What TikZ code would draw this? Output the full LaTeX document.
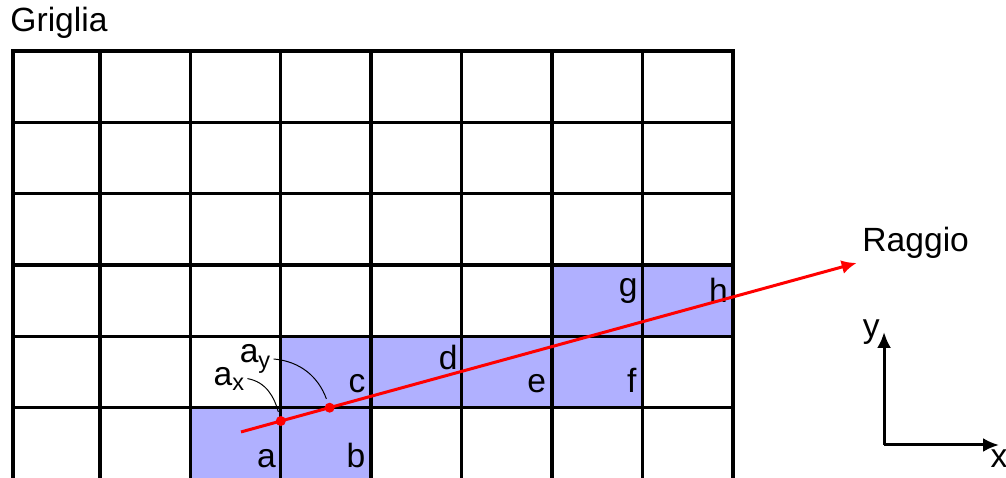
\documentclass[tikz,border=0pt]{standalone}
\usepackage{fontspec}
\setmainfont{Liberation Sans}
\usetikzlibrary{arrows.meta}
\definecolor{zelle}{HTML}{B0B0FF}
\definecolor{rosso}{HTML}{FF0000}
\tikzset{
  griglia/.style={black,line width=1.7pt},
  colpita/.style={fill=zelle},
  raggio/.style={-{Latex[length=7.5pt,width=7pt]},rosso,line width=1.5pt},
  asse/.style={-{Latex[length=8pt,width=7pt]},black,line width=1.5pt},
  lbl/.style={inner sep=0pt,font=\fontsize{16.8}{20}\selectfont},
  guida/.style={black,line width=0.5pt,shorten >=2pt},
  punto/.style={circle,fill=rosso,inner sep=0pt,minimum size=5pt},
}

\begin{document}
\begin{tikzpicture}[x=45.2pt,y=35.65pt]
  \useasboundingbox (-0.106,0.028) rectangle (11.022,6.718);
  % celle attraversate dal raggio
  \fill[colpita] (2,0) rectangle (4,1);
  \fill[colpita] (3,1) rectangle (7,2);
  \fill[colpita] (6,2) rectangle (8,3);
  % griglia
  \draw[griglia] (0.04,-0.1) rectangle (8,6);
  \foreach \x in {1,...,7} \draw[griglia] (\x,-0.1) -- (\x,6);
  \foreach \y in {1,...,5} \draw[griglia] (0.04,\y) -- (8,\y);
  \node[lbl,anchor=base west] (titolo) at (0.005,6.27) {Griglia};
  % nomi delle celle
  \node[lbl,anchor=south east] (ca) at (2.95,0.154) {a};
  \node[lbl,anchor=south east] (cb) at (3.94,0.154) {b};
  \node[lbl,anchor=south east] (cc) at (3.94,1.21) {c};
  \node[lbl,anchor=north east] (cd) at (4.96,1.88) {d};
  \node[lbl,anchor=south east] (ce) at (5.94,1.21) {e};
  \node[lbl,anchor=south east] (cf) at (6.94,1.21) {f};
  \node[lbl,anchor=north east] (cg) at (6.95,2.82) {g};
  \node[lbl,anchor=north east] (ch) at (7.95,2.82) {h};
  % raggio
  \coordinate (inizio) at (2.56,0.66);
  \coordinate (punta) at (9.37,3.03);
  \draw[raggio] (inizio) -- (punta);
  \node[lbl,anchor=base west] (nraggio) at (9.43,3.185) {Raggio};
  \node[punto] (px) at (3,0.813) {};
  \node[punto] (py) at (3.54,1) {};
  % distanze ax, ay
  \node[lbl,anchor=base west,inner sep=1pt] (ax) at (2.23,1.318) {a\textsubscript{x}};
  \node[lbl,anchor=base west,inner sep=1pt] (ay) at (2.52,1.627) {a\textsubscript{y}};
  \draw[guida] (ax.east) to[out=-10,in=105] (px);
  \draw[guida] (ay.east) to[out=-5,in=110] (py);
  % assi
  \coordinate (o) at (9.673,0.477);
  \coordinate (oy) at (9.673,2.062);
  \coordinate (ox) at (10.945,0.477);
  \draw[asse] (o) -- (oy);
  \draw[asse] (o) -- (ox);
  \node[lbl,anchor=east,inner sep=2pt] (ny) at (oy) {y};
  \node[lbl,anchor=north,inner sep=2pt] (nx) at (ox) {x};
\end{tikzpicture}
\end{document}
